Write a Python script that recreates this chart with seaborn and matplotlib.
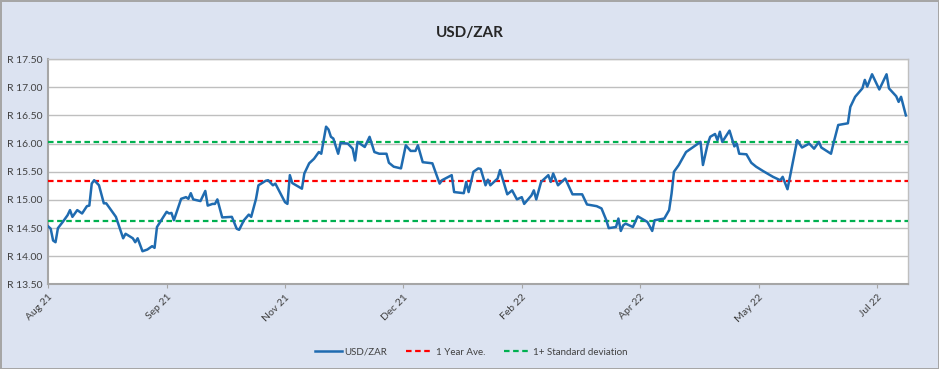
import matplotlib
matplotlib.use("Agg")
import matplotlib.pyplot as plt
import matplotlib.dates as mdates
import seaborn as sns
import pandas as pd
import numpy as np

# USD/ZAR daily rate (days counted from 2 Aug 2021)
start_date = "2021-08-02"
day_offsets = [
    0, 1, 2, 3, 4, 6, 8, 9, 10, 12, 14, 16, 17, 18, 19, 21, 23, 24, 28, 31,
    32, 35, 36, 37, 39, 41, 43, 44, 45, 49, 50, 51, 52, 55, 57, 58, 59, 60, 63, 65,
    66, 68, 69, 70, 72, 76, 78, 79, 81, 83, 84, 86, 87, 90, 91, 93, 94, 98, 99, 100,
    101, 105, 106, 108, 110, 112, 113, 115, 116, 117, 118, 120, 121, 124, 126, 127, 128, 131, 133, 135,
    137, 140, 141, 143, 146, 148, 150, 152, 153, 155, 159, 160, 162, 163, 167, 168, 172, 173, 174, 176,
    178, 179, 181, 182, 183, 186, 187, 190, 192, 194, 196, 197, 200, 201, 202, 204, 207, 208, 209, 211,
    214, 217, 221, 223, 227, 229, 231, 232, 235, 236, 237, 238, 239, 242, 244, 248, 250, 251, 255, 257,
    258, 259, 261, 264, 266, 270, 271, 273, 274, 276, 277, 278, 279, 282, 284, 285, 286, 289, 291, 293,
    296, 300, 303, 304, 306, 308, 310, 312, 315, 317, 319, 320, 324, 325, 327, 331, 332, 334, 337, 338,
    339, 341, 344, 347, 348, 351, 352, 353, 355,
]
usd_zar = [
    14.53, 14.49, 14.28, 14.25, 14.50, 14.61, 14.73, 14.82, 14.70, 14.82, 14.76, 14.89, 14.90, 15.29, 15.35, 15.26, 14.94, 14.94, 14.70, 14.32,
    14.40, 14.32, 14.25, 14.32, 14.09, 14.12, 14.18, 14.15, 14.52, 14.79, 14.76, 14.77, 14.64, 15.02, 15.05, 15.02, 15.12, 15.01, 14.98, 15.16,
    14.90, 14.93, 14.93, 15.01, 14.69, 14.70, 14.49, 14.47, 14.64, 14.74, 14.70, 15.02, 15.26, 15.34, 15.35, 15.26, 15.29, 14.96, 14.93, 15.44,
    15.30, 15.20, 15.47, 15.65, 15.73, 15.85, 15.82, 16.30, 16.25, 16.12, 16.09, 15.82, 16.01, 16.00, 15.91, 15.70, 16.03, 15.94, 16.12, 15.85,
    15.82, 15.82, 15.66, 15.59, 15.56, 15.97, 15.87, 15.87, 15.97, 15.67, 15.65, 15.53, 15.29, 15.35, 15.44, 15.14, 15.12, 15.32, 15.14, 15.50,
    15.56, 15.55, 15.26, 15.36, 15.26, 15.38, 15.53, 15.10, 15.17, 15.01, 15.05, 14.93, 15.08, 15.17, 15.01, 15.32, 15.44, 15.32, 15.47, 15.26,
    15.38, 15.10, 15.10, 14.92, 14.89, 14.85, 14.64, 14.50, 14.52, 14.67, 14.45, 14.55, 14.58, 14.52, 14.71, 14.61, 14.45, 14.64, 14.67, 14.82,
    15.11, 15.50, 15.62, 15.85, 15.91, 16.03, 15.62, 16.00, 16.12, 16.17, 16.06, 16.21, 16.03, 16.23, 15.95, 16.00, 15.82, 15.81, 15.66, 15.59,
    15.51, 15.41, 15.35, 15.41, 15.19, 15.62, 16.06, 15.93, 16.00, 15.91, 16.03, 15.93, 15.82, 16.00, 16.33, 16.36, 16.65, 16.83, 16.98, 17.13,
    17.01, 17.23, 16.96, 17.23, 16.98, 16.84, 16.74, 16.83, 16.50,
]
year_average = 15.33
std_upper = 16.02
std_lower = 14.62
tick_step_days = 49
axis_end_day = 356

start = pd.Timestamp(start_date)
df = pd.DataFrame({
    "date": start + pd.to_timedelta(day_offsets, unit="D"),
    "USD/ZAR": usd_zar,
})

bg = "#DCE3F1"
text_col = "#404040"
dash = (0, (2.5, 1.6))
plt.rcParams["font.family"] = ["Lato", "DejaVu Sans"]

fig = plt.figure(figsize=(9.39, 3.69), dpi=100)
fig.patch.set_facecolor(bg)
fig.patch.set_edgecolor("#A6A6A6")
fig.patch.set_linewidth(2)
ax = fig.add_axes([0.0514, 0.229, 0.9159, 0.611])
ax.set_facecolor("white")

# grid lines
for v in np.arange(13.5, 17.51, 0.5):
    ax.axhline(v, color="#BFBFBF", lw=1.0, zorder=1)

sns.lineplot(data=df, x="date", y="USD/ZAR", ax=ax, color="#1F6BB0", lw=1.8,
             label="USD/ZAR", zorder=4)
ax.axhline(year_average, color="#FF0000", ls=dash, lw=1.6, label="1 Year Ave.", zorder=3)
ax.axhline(std_upper, color="#00B050", ls=dash, lw=1.6, label="1+ Standard deviation", zorder=3)
ax.axhline(std_lower, color="#00B050", ls=dash, lw=1.6, zorder=3)

ax.set_ylim(13.5, 17.5)
ax.set_yticks(np.arange(13.5, 17.51, 0.5))
ax.yaxis.set_major_formatter(plt.FuncFormatter(lambda v, p: f"R {v:.2f}"))
ax.set_xlim(start, start + pd.Timedelta(days=axis_end_day))
ticks = [start + pd.Timedelta(days=tick_step_days * k) for k in range(8)]
ax.set_xticks(ticks)
ax.xaxis.set_major_formatter(mdates.DateFormatter("%b %y"))
for lab in ax.get_xticklabels():
    lab.set_rotation(45)
    lab.set_ha("right")
    lab.set_rotation_mode("anchor")

ax.tick_params(axis="both", labelsize=7.5, colors=text_col, length=3, width=0.8)
ax.tick_params(axis="y", length=0, pad=4)
ax.tick_params(axis="x", color="#A6A6A6", pad=3)
ax.set_xlabel("")
ax.set_ylabel("")
for side in ["left", "bottom"]:
    ax.spines[side].set_color("#A6A6A6")
    ax.spines[side].set_linewidth(1.5)
for side in ["top", "right"]:
    ax.spines[side].set_color("#BFBFBF")
    ax.spines[side].set_linewidth(1.0)

fig.text(0.5, 0.91, "USD/ZAR", ha="center", va="center", fontsize=11,
         fontweight="bold", color="#262626")

handles, labels = ax.get_legend_handles_labels()
ax.legend(handles, labels, loc="center", bbox_to_anchor=(0.502, 0.045),
          bbox_transform=fig.transFigure, ncol=3, frameon=False, fontsize=7,
          handlelength=2.8, handletextpad=0.25, columnspacing=1.9, labelcolor=text_col)

fig.savefig("out.png", dpi=100, facecolor=fig.get_facecolor(), edgecolor=fig.get_edgecolor())
